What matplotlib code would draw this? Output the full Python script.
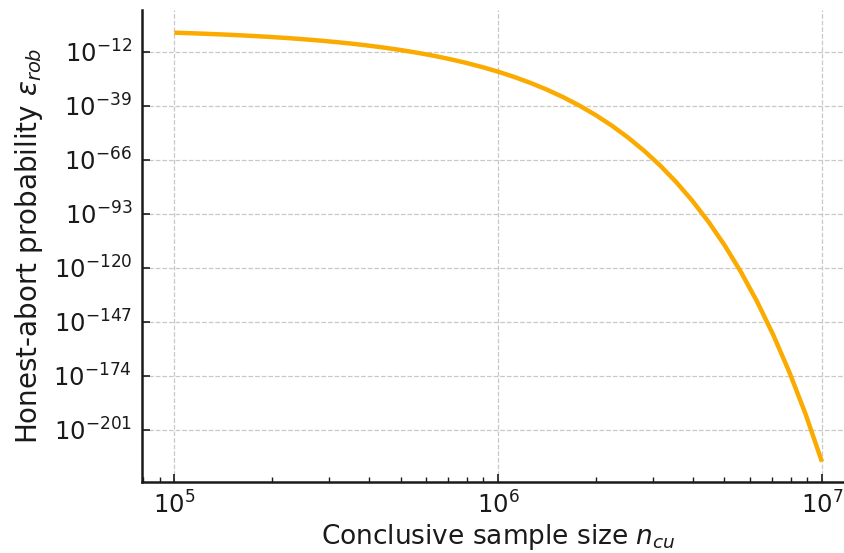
import numpy as np
import matplotlib
matplotlib.use("Agg")
import matplotlib.pyplot as plt
from matplotlib import rcParams
from matplotlib.ticker import NullLocator, FixedLocator

rcParams["font.family"] = "DejaVu Sans"
rcParams["mathtext.fontset"] = "dejavusans"
ORANGE = "#fbab00"

# conclusive sample size n_cu and log10 of the honest-abort probability
n_cu = [1.000e5, 1.122e5, 1.259e5, 1.413e5, 1.585e5, 1.778e5, 1.995e5, 2.239e5,
        2.512e5, 2.818e5, 3.162e5, 3.548e5, 3.981e5, 4.467e5, 5.012e5, 5.623e5,
        6.310e5, 7.079e5, 7.943e5, 8.913e5, 1.000e6, 1.122e6, 1.259e6, 1.413e6,
        1.585e6, 1.778e6, 1.995e6, 2.239e6, 2.512e6, 2.818e6, 3.162e6, 3.548e6,
        3.981e6, 4.467e6, 5.012e6, 5.623e6, 6.310e6, 7.079e6, 7.943e6, 8.913e6,
        1.000e7]
log10_eps = [-2.50, -2.76, -3.06, -3.39, -3.77, -4.19, -4.66, -5.18,
             -5.78, -6.44, -7.19, -8.02, -8.96, -10.01, -11.19, -12.52,
             -14.00, -15.67, -17.55, -19.65, -22.00, -24.65, -27.61, -30.94,
             -34.67, -38.87, -43.57, -48.85, -54.77, -61.41, -68.86, -77.22,
             -86.60, -97.13, -108.94, -122.19, -137.06, -153.74, -172.47, -193.47,
             -217.03]
ytick_exp = [-12, -39, -66, -93, -120, -147, -174, -201]
xtick_exp = [5, 6, 7]

eps = 10.0 ** np.array(log10_eps)

fig = plt.figure(figsize=(8.44, 5.53), dpi=100)
ax = fig.add_axes([0.1682, 0.1284, 0.8440, 0.8535])
ax.plot(n_cu, eps, color=ORANGE, lw=3.2, solid_capstyle="butt")

ax.set_xscale("log"); ax.set_yscale("log")
ax.set_xlim(10 ** 4.9, 10 ** 7.1)
ax.set_ylim(10.0 ** -227.2, 10.0 ** 8.85)
ax.yaxis.set_major_locator(FixedLocator([10.0 ** e for e in ytick_exp]))
ax.set_yticklabels([f"$10^{{{e}}}$" for e in ytick_exp])
ax.yaxis.set_minor_locator(NullLocator())
ax.xaxis.set_major_locator(FixedLocator([10.0 ** e for e in xtick_exp]))
ax.set_xticklabels([f"$10^{{{e}}}$" for e in xtick_exp])

ax.grid(True, which="major", ls="--", color="#c8c8c8", lw=0.9)
ax.set_axisbelow(True)
for s in ["top", "right"]:
    ax.spines[s].set_visible(False)
for s in ["left", "bottom"]:
    ax.spines[s].set_linewidth(1.8); ax.spines[s].set_color("#1a1a1a")
ax.tick_params(which="major", direction="in", length=6, width=1.2, labelsize=17.5,
               colors="#1a1a1a", pad=7)
ax.tick_params(which="minor", direction="in", length=3.5, width=1.0, colors="#1a1a1a")

ax.set_xlabel("Conclusive sample size $n_{cu}$", fontsize=19, color="#1a1a1a", labelpad=2)
ax.set_ylabel("Honest-abort probability $\\varepsilon_{rob}$", fontsize=20, color="#1a1a1a",
              labelpad=6)

fig.savefig("out.png", dpi=100, facecolor="white")
